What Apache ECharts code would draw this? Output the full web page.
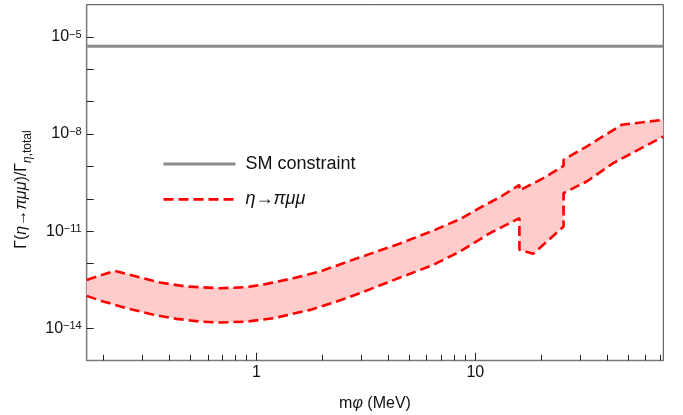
<!DOCTYPE html>
<html>
<head>
<meta charset="utf-8">
<script src="https://cdn.jsdelivr.net/npm/echarts@6/dist/echarts.min.js"></script>
<style>
html,body{margin:0;padding:0;background:#fff;}
#chart{width:683px;height:415px;}
</style>
</head>
<body>
<div id="chart"></div>
<script>
// ---- data ----
const xRange = [0.168, 72.2];
const yRange = [1e-15, 1e-4];
const smValue = 5.2e-6;
const upperX = [0.168, 0.225, 0.284, 0.363, 0.481, 0.683, 0.904, 1.116, 1.475, 1.954, 2.496, 3.305, 4.531, 6.43, 8.51, 10.88, 12.97, 15.9, 15.9, 20.44, 25.3, 25.3, 32.27, 46.6, 72.2];
const upperY = [3.1e-13, 5.9e-13, 3.94e-13, 2.57e-13, 1.93e-13, 1.72e-13, 1.85e-13, 2.34e-13, 3.51e-13, 5.62e-13, 1.02e-12, 1.98e-12, 4.13e-12, 1.04e-11, 2.35e-11, 6.05e-11, 1.12e-10, 2.7e-10, 1.8e-10, 4.35e-10, 1.04e-9, 1.6e-9, 4.13e-9, 1.94e-8, 2.77e-8];
const lowerX = [0.168, 0.2, 0.256, 0.339, 0.433, 0.553, 0.683, 0.904, 1.196, 1.759, 2.328, 2.975, 4.531, 6.43, 8.51, 11.67, 15.9, 15.9, 18.4, 25.3, 25.3, 32.27, 42.67, 72.2];
const lowerY = [9.95e-14, 6.64e-14, 4.15e-14, 2.58e-14, 1.94e-14, 1.6e-14, 1.49e-14, 1.6e-14, 2.03e-14, 3.67e-14, 6.64e-14, 1.21e-13, 3.66e-13, 9.06e-13, 2.34e-12, 8.67e-12, 2.52e-11, 2.64e-12, 1.98e-12, 1.39e-11, 1.5e-10, 3.42e-10, 1.27e-9, 8.41e-9];
const xMajorTicks = [1, 10];
const xMinorTicks = [0.2, 0.3, 0.4, 0.5, 0.6, 0.7, 0.8, 0.9, 2, 3, 4, 5, 6, 7, 8, 9, 20, 30, 40, 50, 60, 70];
const yTicks = [1e-14, 1e-13, 1e-12, 1e-11, 1e-10, 1e-9, 1e-8, 1e-7, 1e-6, 1e-5];
const yLabels = [1e-14, 1e-11, 1e-8, 1e-5];
const seriesNames = ['SM constraint', 'η→πμμ'];

// ---- chart ----
const FONT = '"Liberation Sans", Arial, sans-serif';
const upperData = upperX.map((x, i) => [x, upperY[i]]);
const lowerData = lowerX.map((x, i) => [x, lowerY[i]]);
const chart = echarts.init(document.getElementById('chart'), null, {renderer: 'canvas'});

const option = {
  animation: false,
  backgroundColor: '#fff',
  grid: {left: 86.7, right: 19.7, top: 4.7, bottom: 54.5, show: true, borderColor: '#444', borderWidth: 1, outerBoundsMode: 'none'},
  legend: {
    data: [
      {name: seriesNames[0], lineStyle: {width: 3}},
      {name: seriesNames[1], lineStyle: {width: 2.7}}
    ],
    orient: 'vertical',
    left: 157, top: 149,
    itemWidth: 72, itemHeight: 14, itemGap: 15.3,
    itemStyle: {opacity: 0, borderWidth: 0},
    textStyle: {fontFamily: FONT, fontSize: 18, color: '#111', lineHeight: 20, padding: [0, 0, 0, 5],
      rich: {i: {fontFamily: FONT, fontSize: 18, fontStyle: 'italic', color: '#111', lineHeight: 20}}},
    formatter: n => n === seriesNames[1] ? '{i|' + n + '}' : n,
    selectedMode: false
  },
  xAxis: [{
    type: 'log', min: xRange[0], max: xRange[1],
    position: 'bottom',
    axisLine: {show: true, lineStyle: {color: '#7a7a7a', width: 1.3}},
    axisTick: {show: true, inside: true, length: 7.7, customValues: xMajorTicks, lineStyle: {color: '#222', width: 1}},
    axisLabel: {customValues: xMajorTicks, margin: 4, fontFamily: FONT, fontSize: 16, color: '#111', formatter: v => String(v)},
    splitLine: {show: false}, minorTick: {show: false},
    name: 'm{i|φ} (MeV)', nameLocation: 'middle', nameGap: 35,
    nameTextStyle: {fontFamily: FONT, fontSize: 16, color: '#111',
      rich: {i: {fontFamily: FONT, fontSize: 16, fontStyle: 'italic', color: '#111'}}}
  }, {
    type: 'log', min: xRange[0], max: xRange[1],
    position: 'bottom',
    axisLine: {show: false},
    axisTick: {show: true, inside: true, length: 5.7, customValues: xMinorTicks, lineStyle: {color: '#222', width: 1}},
    axisLabel: {show: false},
    splitLine: {show: false}
  }],
  yAxis: {
    type: 'log', min: yRange[0], max: yRange[1],
    axisLine: {show: true, lineStyle: {color: '#7a7a7a', width: 1.3}},
    axisTick: {show: true, inside: true, length: 7, customValues: yTicks, lineStyle: {color: '#222', width: 1}},
    axisLabel: {customValues: yLabels, margin: 5, fontFamily: FONT, fontSize: 16, color: '#111',
      formatter: v => '10{sup|−' + (-Math.round(Math.log10(v))) + '}',
      rich: {sup: {fontFamily: FONT, fontSize: 11, color: '#111', verticalAlign: 'top', lineHeight: 11, padding: [0, 0, 10, 0]}}},
    splitLine: {show: false},
    name: '{n|Γ(}{i|η}{n|→}{i|πμμ}{n|)/Γ}{si|η}{s|,total}',
    nameLocation: 'middle', nameGap: 53,
    nameTextStyle: {fontFamily: FONT, fontSize: 16, color: '#111', padding: [0, 14, 0, 0],
      rich: {
        n: {fontFamily: FONT, fontSize: 16, color: '#111', lineHeight: 24},
        i: {fontFamily: FONT, fontSize: 16, fontStyle: 'italic', color: '#111', lineHeight: 24},
        s: {fontFamily: FONT, fontSize: 12, color: '#111', verticalAlign: 'bottom', lineHeight: 12},
        si: {fontFamily: FONT, fontSize: 12, fontStyle: 'italic', color: '#111', verticalAlign: 'bottom', lineHeight: 12}
      }}
  },
  series: [
    {
      type: 'custom', name: 'band', silent: true, z: 1, clip: true,
      data: [[1, 1e-12]],
      renderItem: function (params, api) {
        const pts = upperData.map(p => api.coord(p)).concat(lowerData.slice().reverse().map(p => api.coord(p)));
        return {type: 'polygon', shape: {points: pts}, style: {fill: '#ffcccc', stroke: null}};
      }
    },
    {
      type: 'line', name: seriesNames[0], z: 3, symbol: 'none', showSymbol: false,
      data: [[xRange[0], smValue], [xRange[1], smValue]],
      lineStyle: {color: '#8c8c8c', width: 3}, itemStyle: {color: '#8c8c8c'}
    },
    {
      type: 'line', name: seriesNames[1], z: 3, symbol: 'none', showSymbol: false,
      data: upperData,
      lineStyle: {color: '#ff0000', width: 2.6, type: [10, 5]}, itemStyle: {color: '#ff0000'}
    },
    {
      type: 'line', name: seriesNames[1], z: 3, symbol: 'none', showSymbol: false,
      data: lowerData,
      lineStyle: {color: '#ff0000', width: 2.6, type: [10, 5]}, itemStyle: {color: '#ff0000'}
    }
  ]
};
chart.setOption(option);
</script>
</body>
</html>
